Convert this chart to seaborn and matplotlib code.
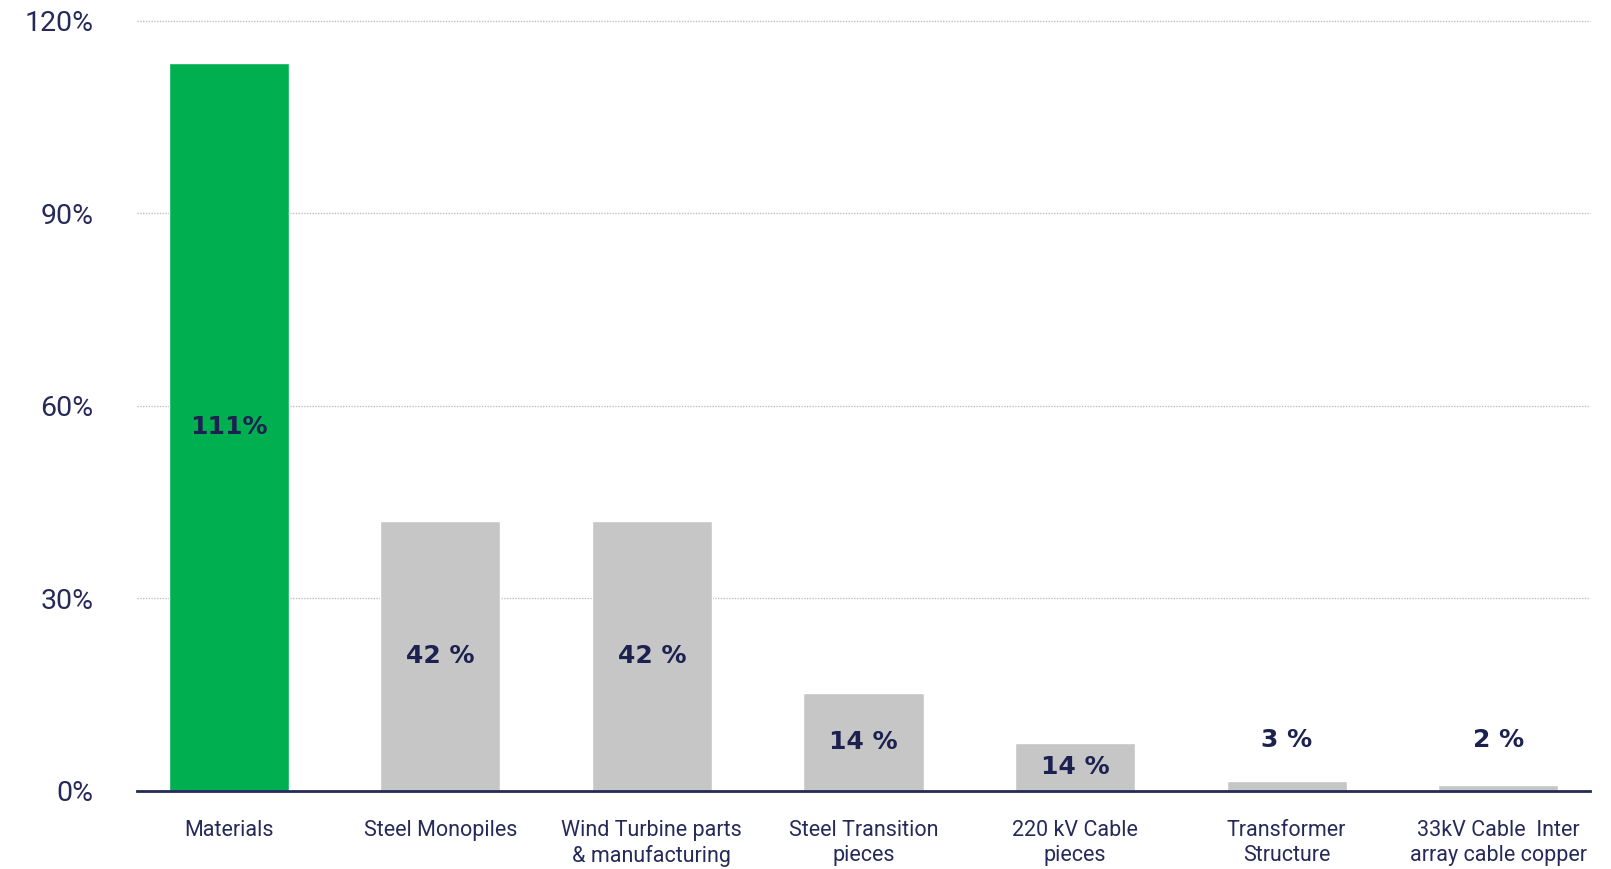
import matplotlib
matplotlib.use("Agg")
import matplotlib.pyplot as plt
import seaborn as sns
import pandas as pd

# Share of cost increase by component
categories = [
    "Materials",
    "Steel Monopiles",
    "Wind Turbine parts\n& manufacturing",
    "Steel Transition\npieces",
    "220 kV Cable\npieces",
    "Transformer\nStructure",
    "33kV Cable  Inter\narray cable copper",
]
values = [113.4, 42.0, 42.0, 15.2, 7.5, 1.6, 0.9]
value_labels = ["111%", "42 %", "42 %", "14 %", "14 %", "3 %", "2 %"]
bar_colors = ["#00b050", "#c6c6c6", "#c6c6c6", "#c6c6c6", "#c6c6c6", "#c6c6c6", "#c6c6c6"]
y_ticks = [0, 30, 60, 90, 120]
y_tick_labels = ["0%", "30%", "60%", "90%", "120%"]

NAVY = "#262a58"
LABEL_NAVY = "#1d2150"

sns.set_theme(style="white")
plt.rcParams["font.family"] = ["Roboto", "DejaVu Sans"]

df = pd.DataFrame({"category": categories, "value": values})

fig = plt.figure(figsize=(16.11, 8.69), dpi=100)
ax = fig.add_axes([0.0848, 0.0898, 0.9022, 0.8866])

sns.barplot(
    data=df, x="category", y="value", hue="category",
    palette=bar_colors, legend=False, width=0.568, saturation=1,
    ax=ax, zorder=3,
)

ax.set_ylim(0, 120)
ax.set_xlim(-0.435, 6.434)
ax.set_yticks(y_ticks)
ax.set_yticklabels(y_tick_labels, fontsize=20.5, color=NAVY, fontweight="normal")
ax.tick_params(axis="y", length=0, pad=31)
ax.tick_params(axis="x", length=0, pad=21)
for lbl in ax.get_xticklabels():
    lbl.set_fontsize(15.5)
    lbl.set_color(NAVY)
    lbl.set_fontweight("normal")
    lbl.set_linespacing(1.22)
ax.set_xlabel("")
ax.set_ylabel("")

# dotted horizontal gridlines
ax.yaxis.grid(True, linestyle=(0, (1, 1)), color="#bfbfbf", linewidth=1.0, zorder=0)
for gl in ax.get_ygridlines():
    gl.set_clip_on(False)
ax.xaxis.grid(False)

for side in ["top", "left", "right"]:
    ax.spines[side].set_visible(False)
ax.spines["bottom"].set_color(NAVY)
ax.spines["bottom"].set_linewidth(2)
ax.spines["bottom"].set_zorder(4)

# value labels: centred inside tall bars, above short ones
small_bar = 5
above_y = 8
for i, (v, txt) in enumerate(zip(values, value_labels)):
    y = v / 2 if v > small_bar else above_y
    ax.text(i, y, txt, ha="center", va="center", fontsize=18,
            fontweight="bold", color=LABEL_NAVY, family="DejaVu Sans", zorder=5)

fig.savefig("out.png", dpi=100)
